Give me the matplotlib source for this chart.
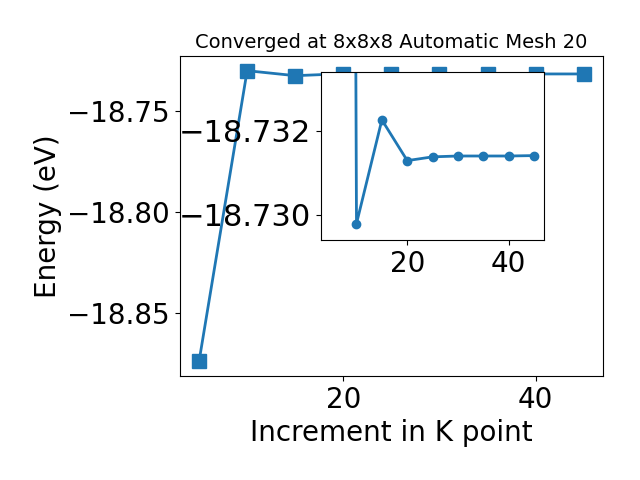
import numpy as np
import matplotlib
matplotlib.use("Agg")
import matplotlib.pyplot as plt

# k point increments and total energies (eV)
kpoints = [5, 10, 15, 20, 25, 30, 35, 40, 45]
energy = [-18.8738, -18.72979, -18.73226, -18.73129, -18.73138,
          -18.73140, -18.73140, -18.73140, -18.73141]

fig = plt.figure(figsize=(6.4, 4.8), dpi=100)
ax = fig.add_axes([0.281, 0.217, 0.661, 0.666])
ax.plot(kpoints, energy, marker='s', markersize=10, linewidth=2, color='#1f77b4')
ax.set_title('Converged at 8x8x8 Automatic Mesh 20', fontsize=14)
ax.set_xlabel('Increment in K point', fontsize=20)
ax.set_ylabel('Energy (eV)', fontsize=20)
ax.set_xticks([20, 40])
ax.set_yticks([-18.85, -18.80, -18.75])
ax.tick_params(labelsize=20)

# zoomed inset, y axis flipped
ins = fig.add_axes([0.5015, 0.5, 0.349, 0.35])
ins.plot(kpoints, energy, marker='o', markersize=6, linewidth=2, color='#1f77b4')
ins.set_ylim(-18.7294, -18.7334)
ins.set_xticks([20, 40])
ins.set_yticks([-18.732, -18.730])
ins.ticklabel_format(axis='y', useOffset=False)
ins.tick_params(axis='x', labelsize=20)
ins.tick_params(axis='y', labelsize=22)

fig.savefig('out.png', dpi=100)
